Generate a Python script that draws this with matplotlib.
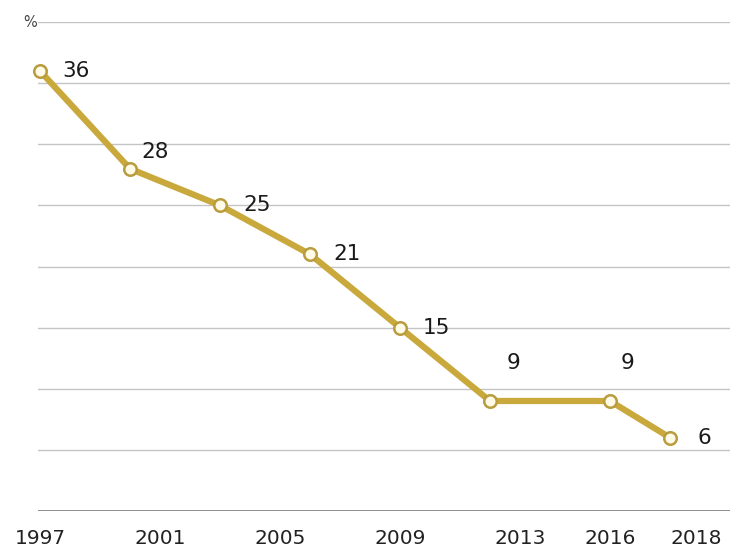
import matplotlib.pyplot as plt

years = [1997, 2000, 2003, 2006, 2009, 2012, 2016, 2018]
values = [36, 28, 25, 21, 15, 9, 9, 6]
tick_years = [1997, 2001, 2005, 2009, 2013, 2016, 2018]
tick_labels = ['1997', '2001', '2005', '2009', '2013', '2016', '2018']

# label offsets in points (dx, dy), left-aligned text
label_offsets = [(16, 0), (8, 12), (17, 0), (17, 0), (16, 0), (12, 27), (8, 27), (20, 0)]

plt.rcParams['font.family'] = ['DejaVu Sans']

fig = plt.figure(figsize=(7.3, 5.53), dpi=100)
ax = fig.add_axes([0.052, 0.076, 0.948, 0.884])

line_col = '#c9a83c'
ax.plot(years, values, color=line_col, lw=4.5, solid_capstyle='round',
        marker='o', ms=9, mfc='#fffbe6', mec='#b89c3e', mew=1.8,
        clip_on=False, zorder=3)

for x, v, (dx, dy) in zip(years, values, label_offsets):
    ax.annotate(str(v), (x, v), xytext=(dx, dy), textcoords='offset points',
                ha='left', va='center', fontsize=15.5, color='#1a1a1a')

ax.set_xlim(1996.93, 2020)
ax.set_ylim(0, 40)
ax.set_yticks(range(5, 45, 5))
ax.set_yticklabels([])
ax.tick_params(axis='y', length=0)
ax.grid(axis='y', color='#c4c4c4', lw=1)
ax.axhline(0, color='#7a7a7a', lw=1.2)

ax.set_xticks(tick_years)
ax.set_xticklabels(tick_labels, fontsize=14.5, color='#222222')
ax.tick_params(axis='x', length=0, pad=13)
ax.get_xticklabels()[-1].set_ha('left')

for s in ax.spines.values():
    s.set_visible(False)

ax.text(-0.012, 40, '%', transform=ax.get_yaxis_transform(), ha='center',
        va='center', fontsize=10.5, color='#444444')

fig.savefig('out.png', dpi=100)
